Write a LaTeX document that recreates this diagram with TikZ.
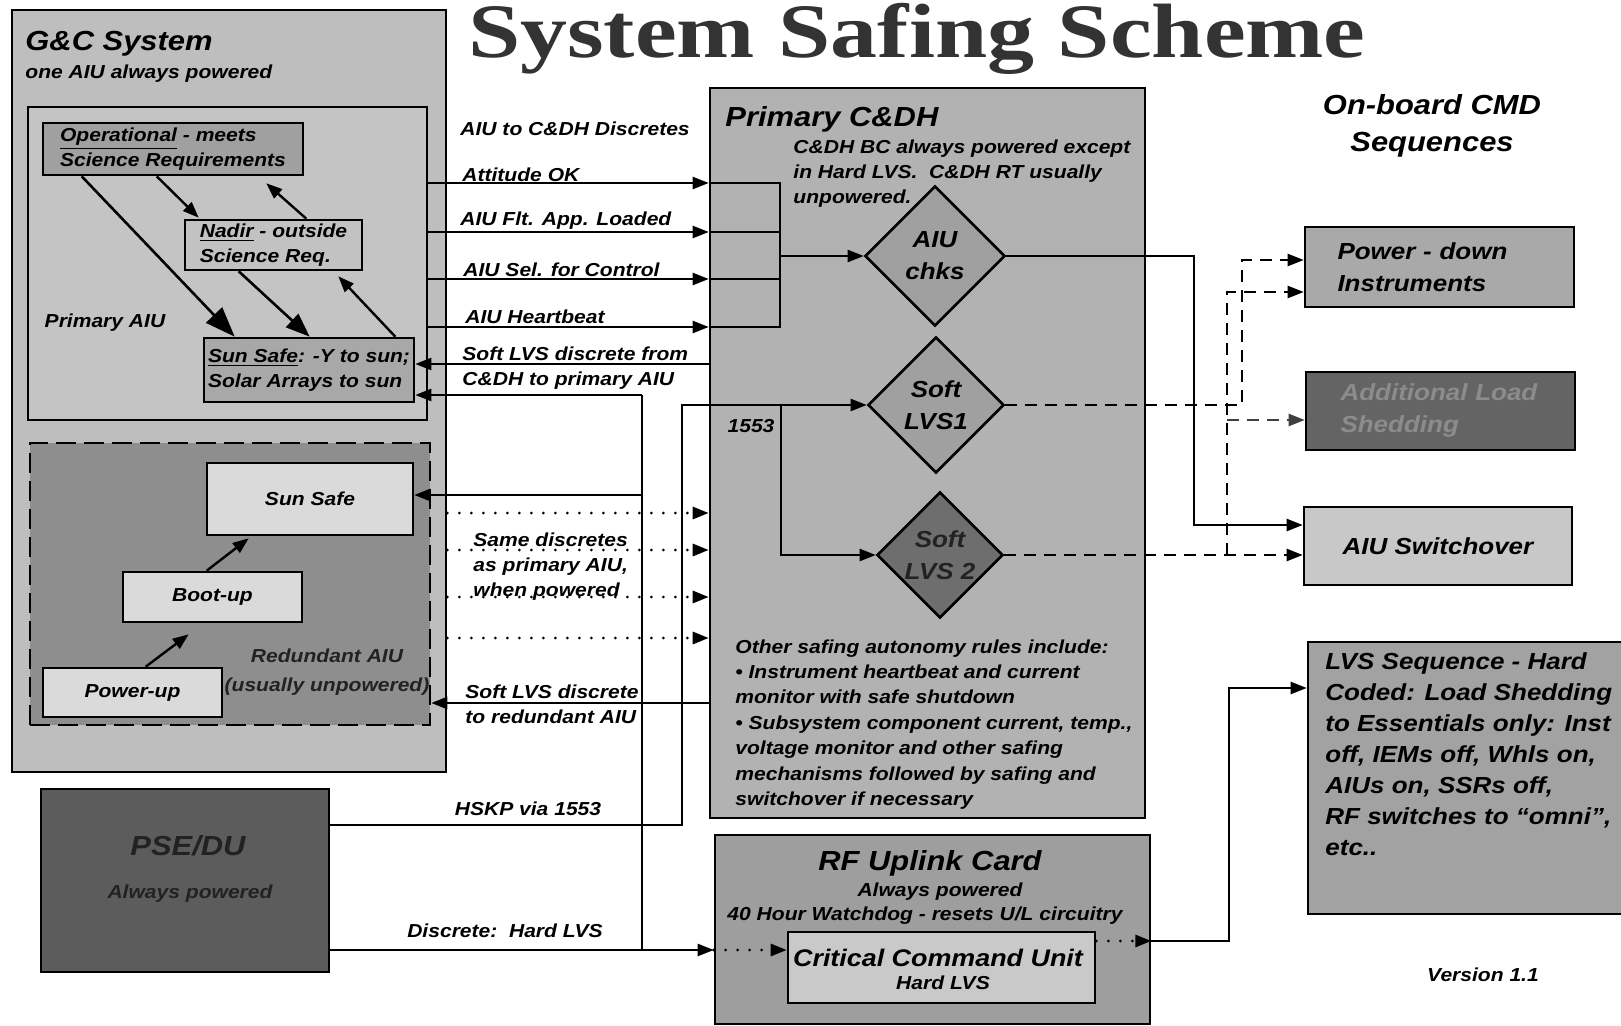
\documentclass[tikz,border=0pt]{standalone}
\usepackage{fontspec}
\setmainfont{Liberation Sans}[FakeStretch=1.12]
\newfontfamily\titlefont{Liberation Serif}[FakeStretch=1.22]
\usetikzlibrary{arrows.meta,shapes.geometric,calc}

\definecolor{gcfill}{HTML}{BEBEBE}
\definecolor{pafill}{HTML}{C4C4C4}
\definecolor{opfill}{HTML}{A0A0A0}
\definecolor{ndfill}{HTML}{C2C2C2}
\definecolor{ssfill}{HTML}{A8A8A8}
\definecolor{rdfill}{HTML}{8E8E8E}
\definecolor{ltfill}{HTML}{DADADA}
\definecolor{cdfill}{HTML}{B2B2B2}
\definecolor{dmfill}{HTML}{A0A0A0}
\definecolor{dkfill}{HTML}{6E6E6E}
\definecolor{rffill}{HTML}{9E9E9E}
\definecolor{ccfill}{HTML}{C9C9C9}
\definecolor{psfill}{HTML}{5C5C5C}
\definecolor{pdfill}{HTML}{A9A9A9}
\definecolor{alfill}{HTML}{646464}
\definecolor{altext}{HTML}{8C8C8C}
\definecolor{swfill}{HTML}{C8C8C8}
\definecolor{lsfill}{HTML}{A2A2A2}
\definecolor{titlegray}{HTML}{333333}
\definecolor{dimtext}{HTML}{222222}

\newcommand{\fBody}{\fontsize{9.4}{12.5}\selectfont\bfseries\itshape}
\newcommand{\fOther}{\fontsize{9.4}{12.7}\selectfont\bfseries\itshape}
\newcommand{\fHead}{\fontsize{13.8}{16}\selectfont\bfseries\itshape}
\newcommand{\fMid}{\fontsize{11.6}{16}\selectfont\bfseries\itshape}
\newcommand{\fSeq}{\fontsize{11.6}{15.5}\selectfont\bfseries\itshape}
\newcommand{\fCCU}{\fontsize{12}{14}\selectfont\bfseries\itshape}
\newcommand{\fOnb}{\fontsize{13.8}{18.5}\selectfont\bfseries\itshape}

\tikzset{
  box/.style={draw=black, line width=1.3pt, inner sep=0pt},
  dm/.style={diamond, draw=black, line width=1.3pt, inner sep=0pt, aspect=1, font=\fMid, align=center},
  lbl/.style={inner sep=0pt, font=\fBody},
  ln/.style={line width=1.2pt},
  arr/.style={line width=1.2pt, -{Triangle[length=8pt,width=6pt]}},
  bigarr/.style={line width=1.3pt, -{Triangle[length=15pt,width=11pt]}},
  midarr/.style={line width=1.3pt, -{Triangle[length=12pt,width=9pt]}},
  darr/.style={line width=1.2pt, dash pattern=on 6pt off 4pt, -{Triangle[length=8pt,width=6pt]}},
  dotarr/.style={line width=1.5pt, dash pattern=on 0pt off 6pt, line cap=round, -{Triangle[length=8pt,width=6pt]}},
}

\begin{document}
\begin{tikzpicture}[x=0.5pt,y=-0.5pt,font=\fBody]
\useasboundingbox (0,0) rectangle (1621,1026);
\clip (0,0) rectangle (1621,1026);
\fill[white] (0,0) rectangle (1621,1026);

% ---------- title ----------
\node[font=\titlefont\bfseries\fontsize{38.5}{42}\selectfont, text=titlegray, anchor=base, inner sep=0pt] (title) at (917,58) {System Safing Scheme};

% ---------- G&C system ----------
\node[box, fill=gcfill, minimum width=217pt, minimum height=381pt] (gc) at (229,391) {};
\node[lbl, font=\fHead, anchor=north west] (gct) at (25,31) {G\&C System};
\node[lbl, anchor=north west] (gcs) at (25,64) {one AIU always powered};

\node[box, fill=pafill, minimum width=199.5pt, minimum height=156.5pt] (pa) at (227.5,263.5) {};
\node[box, fill=opfill, minimum width=130pt, minimum height=26pt, align=left] (op) at (173,149) {\underline{Operational} - meets\\Science Requirements};
\node[box, fill=ndfill, minimum width=88.5pt, minimum height=25pt, align=left] (nd) at (273.5,245) {\underline{Nadir} - outside\\Science Req.};
\node[box, fill=ssfill, minimum width=105pt, minimum height=32pt, align=left] (ss1) at (309,370) {\underline{Sun Safe}: -Y to sun;\\Solar Arrays to sun};
\node[lbl] (palbl) at (105,323) {Primary AIU};

\draw[bigarr] ($(op.south west)+(40,0)$) -- ($(ss1.north west)+(32,0)$);
\draw[arr] ($(op.south west)+(115,0)$) -- ($(nd.north west)+(15,-1)$);
\draw[arr] ($(nd.north east)+(-57,0)$) -- ($(op.south east)+(-38,7)$);
\draw[midarr] ($(nd.south west)+(55,0)$) -- ($(ss1.north west)+(107,0)$);
\draw[arr] ($(ss1.north east)+(-20,0)$) -- ($(nd.south east)+(-25,5)$);

% redundant AIU
\node[box, fill=rdfill, dash pattern=on 10pt off 4pt, minimum width=200pt, minimum height=141pt] (red) at (230,584) {};
\node[box, fill=ltfill, minimum width=103pt, minimum height=36pt] (ss2) at (310,499) {Sun Safe};
\node[box, fill=ltfill, minimum width=89.5pt, minimum height=25pt] (boot) at (212.5,597) {Boot-up};
\node[box, fill=ltfill, minimum width=89.5pt, minimum height=24.5pt] (pwr) at (132.5,692.5) {Power-up};
\node[lbl, text=dimtext, align=center] (redlbl) at (327,672) {Redundant AIU\\[2pt](usually unpowered)};
\draw[arr] ($(pwr.north west)+(104,0)$) -- ($(boot.south west)+(67,11)$);
\draw[arr] ($(boot.north west)+(85,0)$) -- ($(ss2.south west)+(43,2)$);

% ---------- PSE/DU ----------
\node[box, fill=psfill, minimum width=144pt, minimum height=91.5pt] (pse) at (185,880.5) {};
\node[lbl, font=\fHead, text=dimtext, anchor=base] (pset) at (188,855) {PSE/DU};
\node[lbl, text=dimtext, anchor=base] (pses) at (190,898) {Always powered};

% ---------- Primary C&DH ----------
\node[box, fill=cdfill, minimum width=217.5pt, minimum height=365pt] (cdh) at (927.5,453) {};
\node[lbl, font=\fHead, anchor=north west] (cdt) at (725,106) {Primary C\&DH};
\node[lbl, anchor=north west, align=left] (cdn) at (793,139) {C\&DH BC always powered except\\in Hard LVS.\ \ C\&DH RT usually\\unpowered.};
\node[dm, fill=dmfill, minimum width=70pt, minimum height=70pt] (aiuchk) at (935,256) {AIU\\chks};
\node[dm, fill=dmfill, minimum width=68pt, minimum height=68pt] (lvs1) at (936,405) {Soft\\LVS1};
\node[dm, fill=dkfill, text=dimtext, minimum width=63pt, minimum height=63pt] (lvs2) at (940,555) {Soft\\LVS 2};
\node[lbl] (l1553) at (751,426) {1553};
\node[lbl, font=\fOther, anchor=north west, align=left] (other) at (735,639) {Other safing autonomy rules include:\\• Instrument heartbeat and current\\monitor with safe shutdown\\• Subsystem component current, temp.,\\voltage monitor and other safing\\mechanisms followed by safing and\\switchover if necessary};

% ---------- RF uplink ----------
\node[box, fill=rffill, minimum width=217.5pt, minimum height=94.5pt] (rf) at (932.5,929.5) {};
\node[lbl, font=\fHead, anchor=base] (rft) at (930,870) {RF Uplink Card};
\node[lbl, anchor=base] (rfa) at (940,896) {Always powered};
\node[lbl, anchor=base] (rfw) at (925,920) {40 Hour Watchdog - resets U/L circuitry};
\node[box, fill=ccfill, minimum width=153.5pt, minimum height=35.5pt] (ccu) at (941.5,967.5) {};
\node[lbl, font=\fCCU, anchor=base] (ccut) at (938,966) {Critical Command Unit};
\node[lbl, anchor=base] (ccus) at (943,989) {Hard LVS};

% ---------- right column ----------
\node[lbl, font=\fOnb, align=center, anchor=north] (onb) at (1432,94) {On-board CMD\\Sequences};
\node[box, fill=pdfill, minimum width=134.5pt, minimum height=40pt, font=\fMid, text width=102pt, align=left] (pd) at (1439.5,267) {Power - down\\Instruments};
\node[box, fill=alfill, minimum width=134.5pt, minimum height=39pt, font=\fMid, text=altext, text width=100pt, align=left] (als) at (1440.5,411) {Additional Load\\Shedding};
\node[box, fill=swfill, minimum width=134pt, minimum height=39pt, font=\fMid] (sw) at (1438,546) {AIU Switchover};
\node[box, fill=lsfill, minimum width=171pt, minimum height=136pt] (lvs) at (1479,778) {};
\node[lbl, font=\fSeq, anchor=north west, align=left] (lvst) at (1325,652) {LVS Sequence - Hard\\Coded: Load Shedding\\to Essentials only: Inst\\off, IEMs off, Whls on,\\AIUs on, SSRs off,\\RF switches to “omni”,\\etc..};
\node[lbl] (ver) at (1483,975) {Version 1.1};

% ---------- arrow labels ----------
\node[lbl, anchor=north west] (l0) at (460,121) {AIU to C\&DH Discretes};
\node[lbl, anchor=north west] (l1) at (462,167) {Attitude OK};
\node[lbl, anchor=north west] (l2) at (460,211) {AIU Flt. App. Loaded};
\node[lbl, anchor=north west] (l3) at (463,262) {AIU Sel. for Control};
\node[lbl, anchor=north west] (l4) at (465,309) {AIU Heartbeat};
\node[lbl, anchor=north west, align=left] (l5) at (462,346) {Soft LVS discrete from\\C\&DH to primary AIU};
\node[lbl, anchor=north west, align=left] (l6) at (473,532) {Same discretes\\as primary AIU,\\when powered};
\node[lbl, anchor=north west, align=left] (l7) at (465,684) {Soft LVS discrete\\to redundant AIU};
\node[lbl] (l8) at (528,809) {HSKP via 1553};
\node[lbl] (l9) at (505,931) {Discrete:\ \ Hard LVS};

% ---------- coordinates ----------
\coordinate (yAtt) at (0,183);
\coordinate (yFlt) at (0,232);
\coordinate (ySel) at (0,279);
\coordinate (yHb) at (0,327);
\coordinate (ySl) at (0,364);
\coordinate (yRa) at (0,513);
\coordinate (yRb) at (0,550);
\coordinate (yRc) at (0,597);
\coordinate (yRd) at (0,638);
\coordinate (ySr) at (0,703);
\coordinate (yHk) at (0,825);
\coordinate (yDis) at (0,950);
\coordinate (yCo) at (0,941);
\coordinate (vHd) at (642,395);
\coordinate (vRd) at (642,495);
\coordinate (vJ) at (642,950);
\coordinate (busT) at (780,183);
\coordinate (busB) at (780,327);
\coordinate (b553) at (682,405);
\coordinate (b2) at (781,405);
\coordinate (k1) at (1194,525);
\coordinate (dA) at (1242,260);
\coordinate (dB) at (1227,292);
\coordinate (dC) at (1227,420);
\coordinate (lk) at (1229,688);

% ---------- connectors ----------
\foreach \yy in {yAtt,yFlt,ySel,yHb}
  \draw[arr] (pa.east |- \yy) -- (cdh.west |- \yy);
\draw[ln] (cdh.west |- yAtt) -- (busT) -- (busB) -- (cdh.west |- yHb);
\draw[ln] (cdh.west |- yFlt) -- (busT |- yFlt);
\draw[ln] (cdh.west |- ySel) -- (busT |- ySel);
\draw[arr] (busT |- aiuchk.west) -- (aiuchk.west);

\draw[arr] (cdh.west |- ySl) -- (ss1.east |- ySl);
\draw[ln] (vJ) -- (vHd);
\draw[arr] (vHd) -- (ss1.east |- vHd);
\draw[arr] (vRd) -- (ss2.east |- vRd);

\foreach \yy in {yRa,yRb,yRc,yRd}
  \draw[dotarr] (gc.east |- \yy) -- (cdh.west |- \yy);
\draw[arr] (cdh.west |- ySr) -- (red.east |- ySr);

\draw[arr] (pse.east |- yHk) -| (b553) -- (lvs1.west);
\draw[arr] (b2) |- (lvs2.west);
\draw[arr] (pse.east |- yDis) -- (rf.west |- yDis);
\draw[dotarr] (rf.west |- yDis) -- (ccu.west |- yDis);
\draw[dotarr] (ccu.east |- yCo) -- (rf.east |- yCo);
\draw[arr] (rf.east |- yCo) -| (lk) -- (lvs.west |- lk);

\draw[arr] (aiuchk.east) -| (k1) -- (sw.west |- k1);
\draw[darr] (lvs1.east) -| (dA) -- (pd.west |- dA);
\draw[darr] (lvs2.east) -- (sw.west |- lvs2.east);
\draw[darr] (dB |- lvs2.east) -- (dB) -- (pd.west |- dB);
\draw[darr, draw=black!75] (dC) -- (als.west |- dC);
\end{tikzpicture}
\end{document}
